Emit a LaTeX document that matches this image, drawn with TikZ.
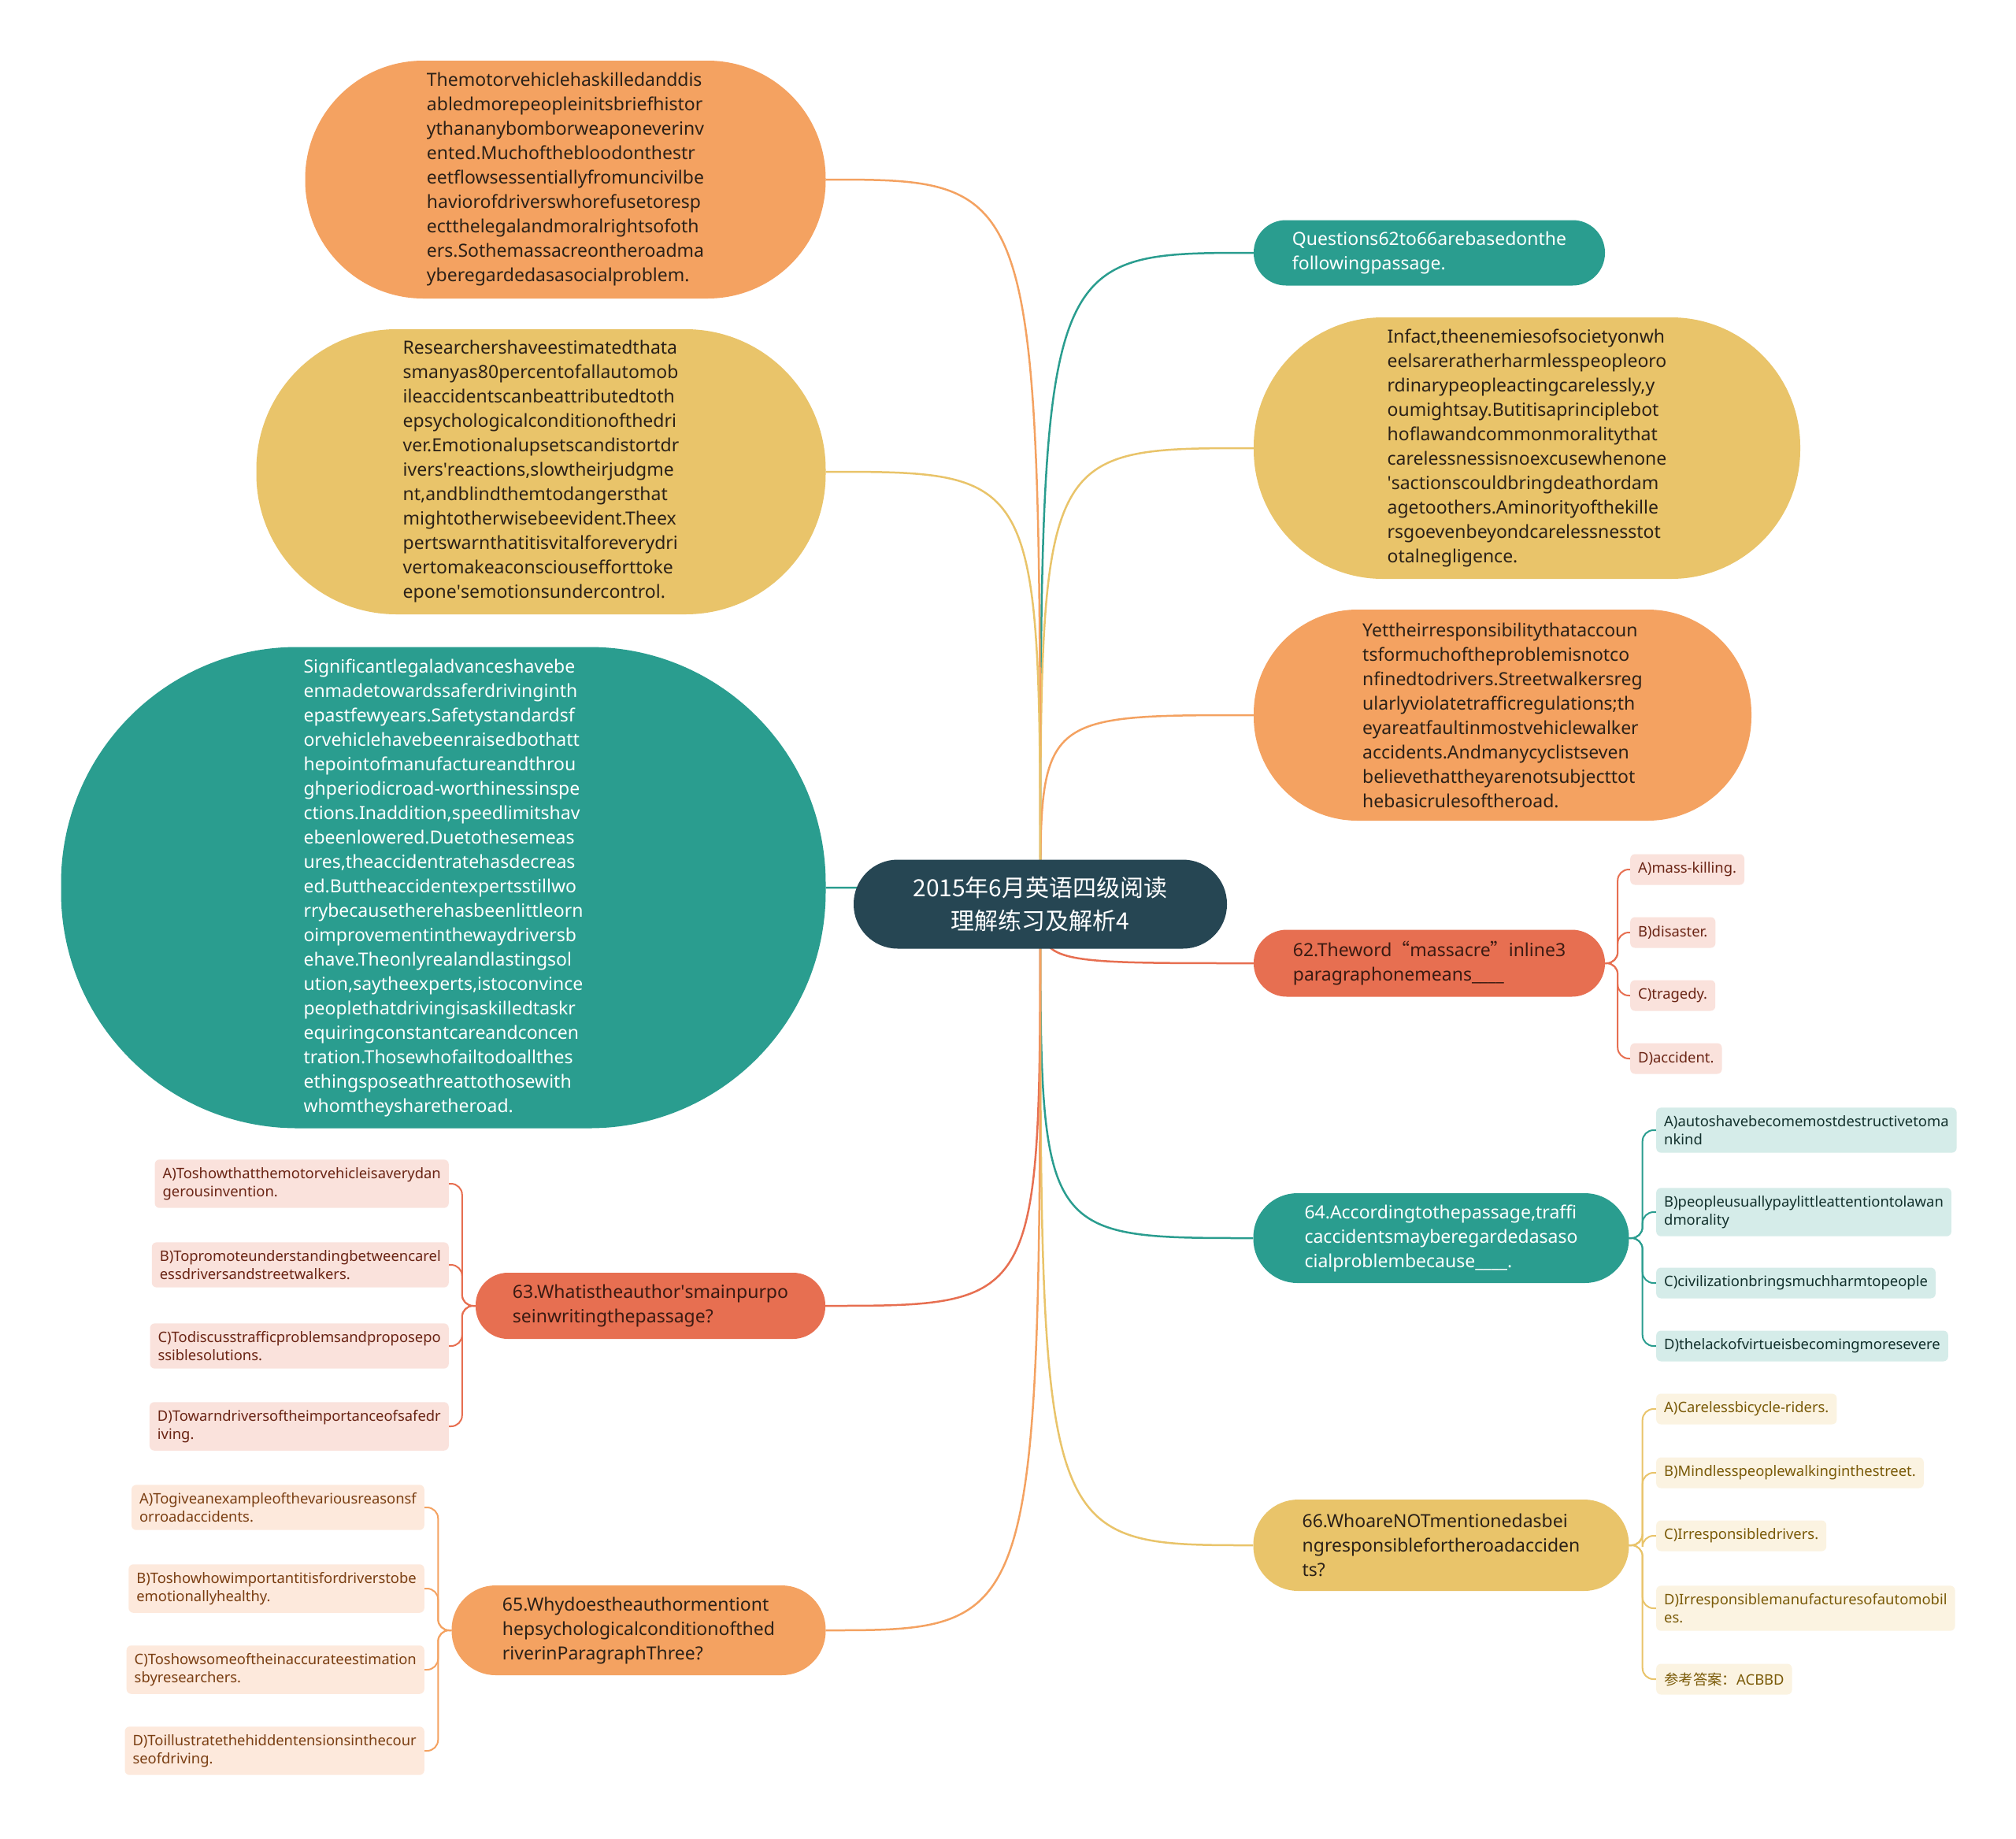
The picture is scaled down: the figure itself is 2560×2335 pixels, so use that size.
\documentclass[tikz,border=0pt]{standalone}
\usepackage{fontspec}
\setmainfont{Noto Sans}
\newfontfamily\cjk{Noto Sans CJK SC}
\usetikzlibrary{calc}
\pgfdeclarelayer{bg}
\pgfsetlayers{bg,main}
\definecolor{cteal}{HTML}{2A9D8F}
\definecolor{cyel}{HTML}{E9C46A}
\definecolor{corg}{HTML}{F4A261}
\definecolor{cred}{HTML}{E76F51}
\definecolor{cdark}{HTML}{264653}
\definecolor{tdark}{HTML}{2B2118}
\definecolor{tredq}{HTML}{3A1A12}
\definecolor{fred}{HTML}{FAE2DC}
\definecolor{tred}{HTML}{6A2414}
\definecolor{fteal}{HTML}{D5ECE9}
\definecolor{tteal}{HTML}{12302C}
\definecolor{fyel}{HTML}{FBF3E1}
\definecolor{tyel}{HTML}{7A5A08}
\definecolor{forg}{HTML}{FDE9DC}
\definecolor{torg}{HTML}{7A3E12}
\newcommand{\sq}{\textquotesingle}
\begin{document}
\begin{tikzpicture}[x=1pt,y=-1pt,
  bigbox/.style={align=left, inner sep=0pt, font=\fontsize{23}{31}\selectfont},
  kidbox/.style={rounded corners=6, inner xsep=10, inner ysep=10, minimum height=39, align=left, font=\fontsize{18.4}{23}\selectfont},
  branch/.style={line width=2.5},
  twig/.style={line width=2, rounded corners=14}]
\useasboundingbox (0,0) rectangle (2560,2335);

% root
\node[fill=cdark, text=white, rounded corners=56, minimum width=474, minimum height=113, align=center, inner sep=0pt, font=\cjk\fontsize{30}{42}\selectfont] (root) at (1321,1148) {2015年6月英语四级阅读\\理解练习及解析4};

% left passages
\node[bigbox, fill=corg, text=tdark, rounded corners=150, minimum width=661, minimum height=302] (l1) at (718,228) {Themotorvehiclehaskilledanddis\\abledmorepeopleinitsbriefhistor\\ythananybomborweaponeverinv\\ented.Muchofthebloodonthestr\\eetflowsessentiallyfromuncivilbe\\haviorofdriverswhorefusetoresp\\ectthelegalandmoralrightsofoth\\ers.Sothemassacreontheroadma\\yberegardedasasocialproblem.};

\node[bigbox, fill=cyel, text=tdark, rounded corners=178, minimum width=723, minimum height=362] (l2) at (687,599) {Researchershaveestimatedthata\\smanyas80percentofallautomob\\ileaccidentscanbeattributedtoth\\epsychologicalconditionofthedri\\ver.Emotionalupsetscandistortdr\\ivers\sq reactions,slowtheirjudgme\\nt,andblindthemtodangersthat\\mightotherwisebeevident.Theex\\pertswarnthatitisvitalforeverydri\\vertomakeaconsciousefforttoke\\epone\sq semotionsundercontrol.};

\node[bigbox, fill=cteal, text=white, rounded corners=300, minimum width=971, minimum height=611] (l3) at (563,1127) {Significantlegaladvanceshavebe\\enmadetowardssaferdrivinginth\\epastfewyears.Safetystandardsf\\orvehiclehavebeenraisedbothatt\\hepointofmanufactureandthrou\\ghperiodicroad-worthinessinspe\\ctions.Inaddition,speedlimitshav\\ebeenlowered.Duetothesemeas\\ures,theaccidentratehasdecreas\\ed.Buttheaccidentexpertsstillwo\\rrybecausetherehasbeenlittleorn\\oimprovementinthewaydriversb\\ehave.Theonlyrealandlastingsol\\ution,saytheexperts,istoconvince\\peoplethatdrivingisaskilledtaskr\\equiringconstantcareandconcen\\tration.Thosewhofailtodoallthes\\ethingsposeathreattothosewith\\whomtheysharetheroad.};

% left questions
\node[bigbox, fill=cred, text=tredq, rounded corners=41, minimum width=444, minimum height=84] (l4) at (826,1658) {63.Whatistheauthor\sq smainpurpo\\seinwritingthepassage?};
\node[bigbox, fill=corg, text=tdark, rounded corners=56, minimum width=475, minimum height=114] (l5) at (811,2070) {65.Whydoestheauthormentiont\\hepsychologicalconditionofthed\\riverinParagraphThree?};

% right nodes
\node[bigbox, fill=cteal, text=white, rounded corners=41, minimum width=446, minimum height=83] (r1) at (1815,321) {Questions62to66arebasedonthe\\followingpassage.};
\node[bigbox, fill=cyel, text=tdark, rounded corners=164, minimum width=694, minimum height=332] (r2) at (1939,569) {Infact,theenemiesofsocietyonwh\\eelsareratherharmlesspeopleoro\\rdinarypeopleactingcarelessly,y\\oumightsay.Butitisaprinciplebot\\hoflawandcommonmoralitythat\\carelessnessisnoexcusewhenone\\\sq sactionscouldbringdeathordam\\agetoothers.Aminorityofthekille\\rsgoevenbeyondcarelessnesstot\\otalnegligence.};
\node[bigbox, fill=corg, text=tdark, rounded corners=132, minimum width=632, minimum height=268] (r3) at (1908,908) {Yettheirresponsibilitythataccoun\\tsformuchoftheproblemisnotco\\nfinedtodrivers.Streetwalkersreg\\ularlyviolatetrafficregulations;th\\eyareatfaultinmostvehiclewalker\\accidents.Andmanycyclistseven\\believethattheyarenotsubjecttot\\hebasicrulesoftheroad.};
\node[bigbox, fill=cred, text=tredq, rounded corners=42, minimum width=446, minimum height=85] (r4) at (1815,1223) {62.Theword{\cjk “}massacre{\cjk ”}inline3\\paragraphonemeans\_\_\_\_};
\node[bigbox, fill=cteal, text=white, rounded corners=56, minimum width=477, minimum height=114] (r5) at (1830,1572) {64.Accordingtothepassage,traffi\\caccidentsmayberegardedasaso\\cialproblembecause\_\_\_\_.};
\node[bigbox, fill=cyel, text=tdark, rounded corners=57, minimum width=477, minimum height=116] (r6) at (1830,1962) {66.WhoareNOTmentionedasbei\\ngresponsiblefortheroadacciden\\ts?};

% children of 62
\node[kidbox, fill=fred, text=tred, anchor=west] (r4a) at (2070,1104) {A)mass-killing.};
\node[kidbox, fill=fred, text=tred, anchor=west] (r4b) at (2070,1184) {B)disaster.};
\node[kidbox, fill=fred, text=tred, anchor=west] (r4c) at (2070,1264) {C)tragedy.};
\node[kidbox, fill=fred, text=tred, anchor=west] (r4d) at (2070,1344) {D)accident.};

% children of 64
\node[kidbox, fill=fteal, text=tteal, anchor=west] (r5a) at (2103,1435) {A)autoshavebecomemostdestructivetoma\\nkind};
\node[kidbox, fill=fteal, text=tteal, anchor=west] (r5b) at (2103,1539) {B)peopleusuallypaylittleattentiontolawan\\dmorality};
\node[kidbox, fill=fteal, text=tteal, anchor=west] (r5c) at (2103,1629) {C)civilizationbringsmuchharmtopeople};
\node[kidbox, fill=fteal, text=tteal, anchor=west] (r5d) at (2103,1709) {D)thelackofvirtueisbecomingmoresevere};

% children of 66
\node[kidbox, fill=fyel, text=tyel, anchor=west] (r6a) at (2103,1789) {A)Carelessbicycle-riders.};
\node[kidbox, fill=fyel, text=tyel, anchor=west] (r6b) at (2103,1870) {B)Mindlesspeoplewalkinginthestreet.};
\node[kidbox, fill=fyel, text=tyel, anchor=west] (r6c) at (2103,1950) {C)Irresponsibledrivers.};
\node[kidbox, fill=fyel, text=tyel, anchor=west] (r6d) at (2103,2042) {D)Irresponsiblemanufacturesofautomobil\\es.};
\node[kidbox, fill=fyel, text=tyel, anchor=west] (r6e) at (2103,2132) {{\cjk 参考答案：}ACBBD};

% children of 63
\node[kidbox, fill=fred, text=tred, anchor=east] (l4a) at (570,1503) {A)Toshowthatthemotorvehicleisaverydan\\gerousinvention.};
\node[kidbox, fill=fred, text=tred, anchor=east] (l4b) at (570,1606) {B)Topromoteunderstandingbetweencarel\\essdriversandstreetwalkers.};
\node[kidbox, fill=fred, text=tred, anchor=east] (l4c) at (570,1709) {C)Todiscusstrafficproblemsandproposepo\\ssiblesolutions.};
\node[kidbox, fill=fred, text=tred, anchor=east] (l4d) at (570,1811) {D)Towarndriversoftheimportanceofsafedr\\iving.};

% children of 65
\node[kidbox, fill=forg, text=torg, anchor=east] (l5a) at (539,1914) {A)Togiveanexampleofthevariousreasonsf\\orroadaccidents.};
\node[kidbox, fill=forg, text=torg, anchor=east] (l5b) at (539,2017) {B)Toshowhowimportantitisfordriverstobe\\emotionallyhealthy.};
\node[kidbox, fill=forg, text=torg, anchor=east] (l5c) at (539,2120) {C)Toshowsomeoftheinaccurateestimation\\sbyresearchers.};
\node[kidbox, fill=forg, text=torg, anchor=east] (l5d) at (539,2223) {D)Toillustratethehiddentensionsinthecour\\seofdriving.};

\begin{pgfonlayer}{bg}
\fill[white] (0,0) rectangle (2560,2335);
% main branches
\draw[branch, cteal] (root.center) .. controls (root.center |- r1.west) .. (r1.west);
\draw[branch, cyel] (root.center) .. controls (root.center |- r2.west) .. (r2.west);
\draw[branch, corg] (root.center) .. controls (root.center |- r3.west) .. (r3.west);
\draw[branch, cred] (root.center) .. controls (root.center |- r4.west) .. (r4.west);
\draw[branch, cteal] (root.center) .. controls (root.center |- r5.west) .. (r5.west);
\draw[branch, cyel] (root.center) .. controls (root.center |- r6.west) .. (r6.west);
\draw[branch, corg] (root.center) .. controls (root.center |- l1.east) .. (l1.east);
\draw[branch, cyel] (root.center) .. controls (root.center |- l2.east) .. (l2.east);
\draw[branch, cteal] (root.center) .. controls (root.center |- l3.east) .. (l3.east);
\draw[branch, cred] (root.center) .. controls (root.center |- l4.east) .. (l4.east);
\draw[branch, corg] (root.center) .. controls (root.center |- l5.east) .. (l5.east);
% brackets
\foreach \k in {r4a,r4b,r4c,r4d} \draw[twig, cred] (r4.east) -- ++(16,0) |- (\k.west);
\foreach \k in {r5a,r5b,r5c,r5d} \draw[twig, cteal] (r5.east) -- ++(17,0) |- (\k.west);
\foreach \k in {r6a,r6b,r6c,r6d,r6e} \draw[twig, cyel] (r6.east) -- ++(17,0) |- (\k.west);
\foreach \k in {l4a,l4b,l4c,l4d} \draw[twig, cred] (l4.west) -- ++(-17,0) |- (\k.east);
\foreach \k in {l5a,l5b,l5c,l5d} \draw[twig, corg] (l5.west) -- ++(-17,0) |- (\k.east);
\end{pgfonlayer}
\end{tikzpicture}
\end{document}
